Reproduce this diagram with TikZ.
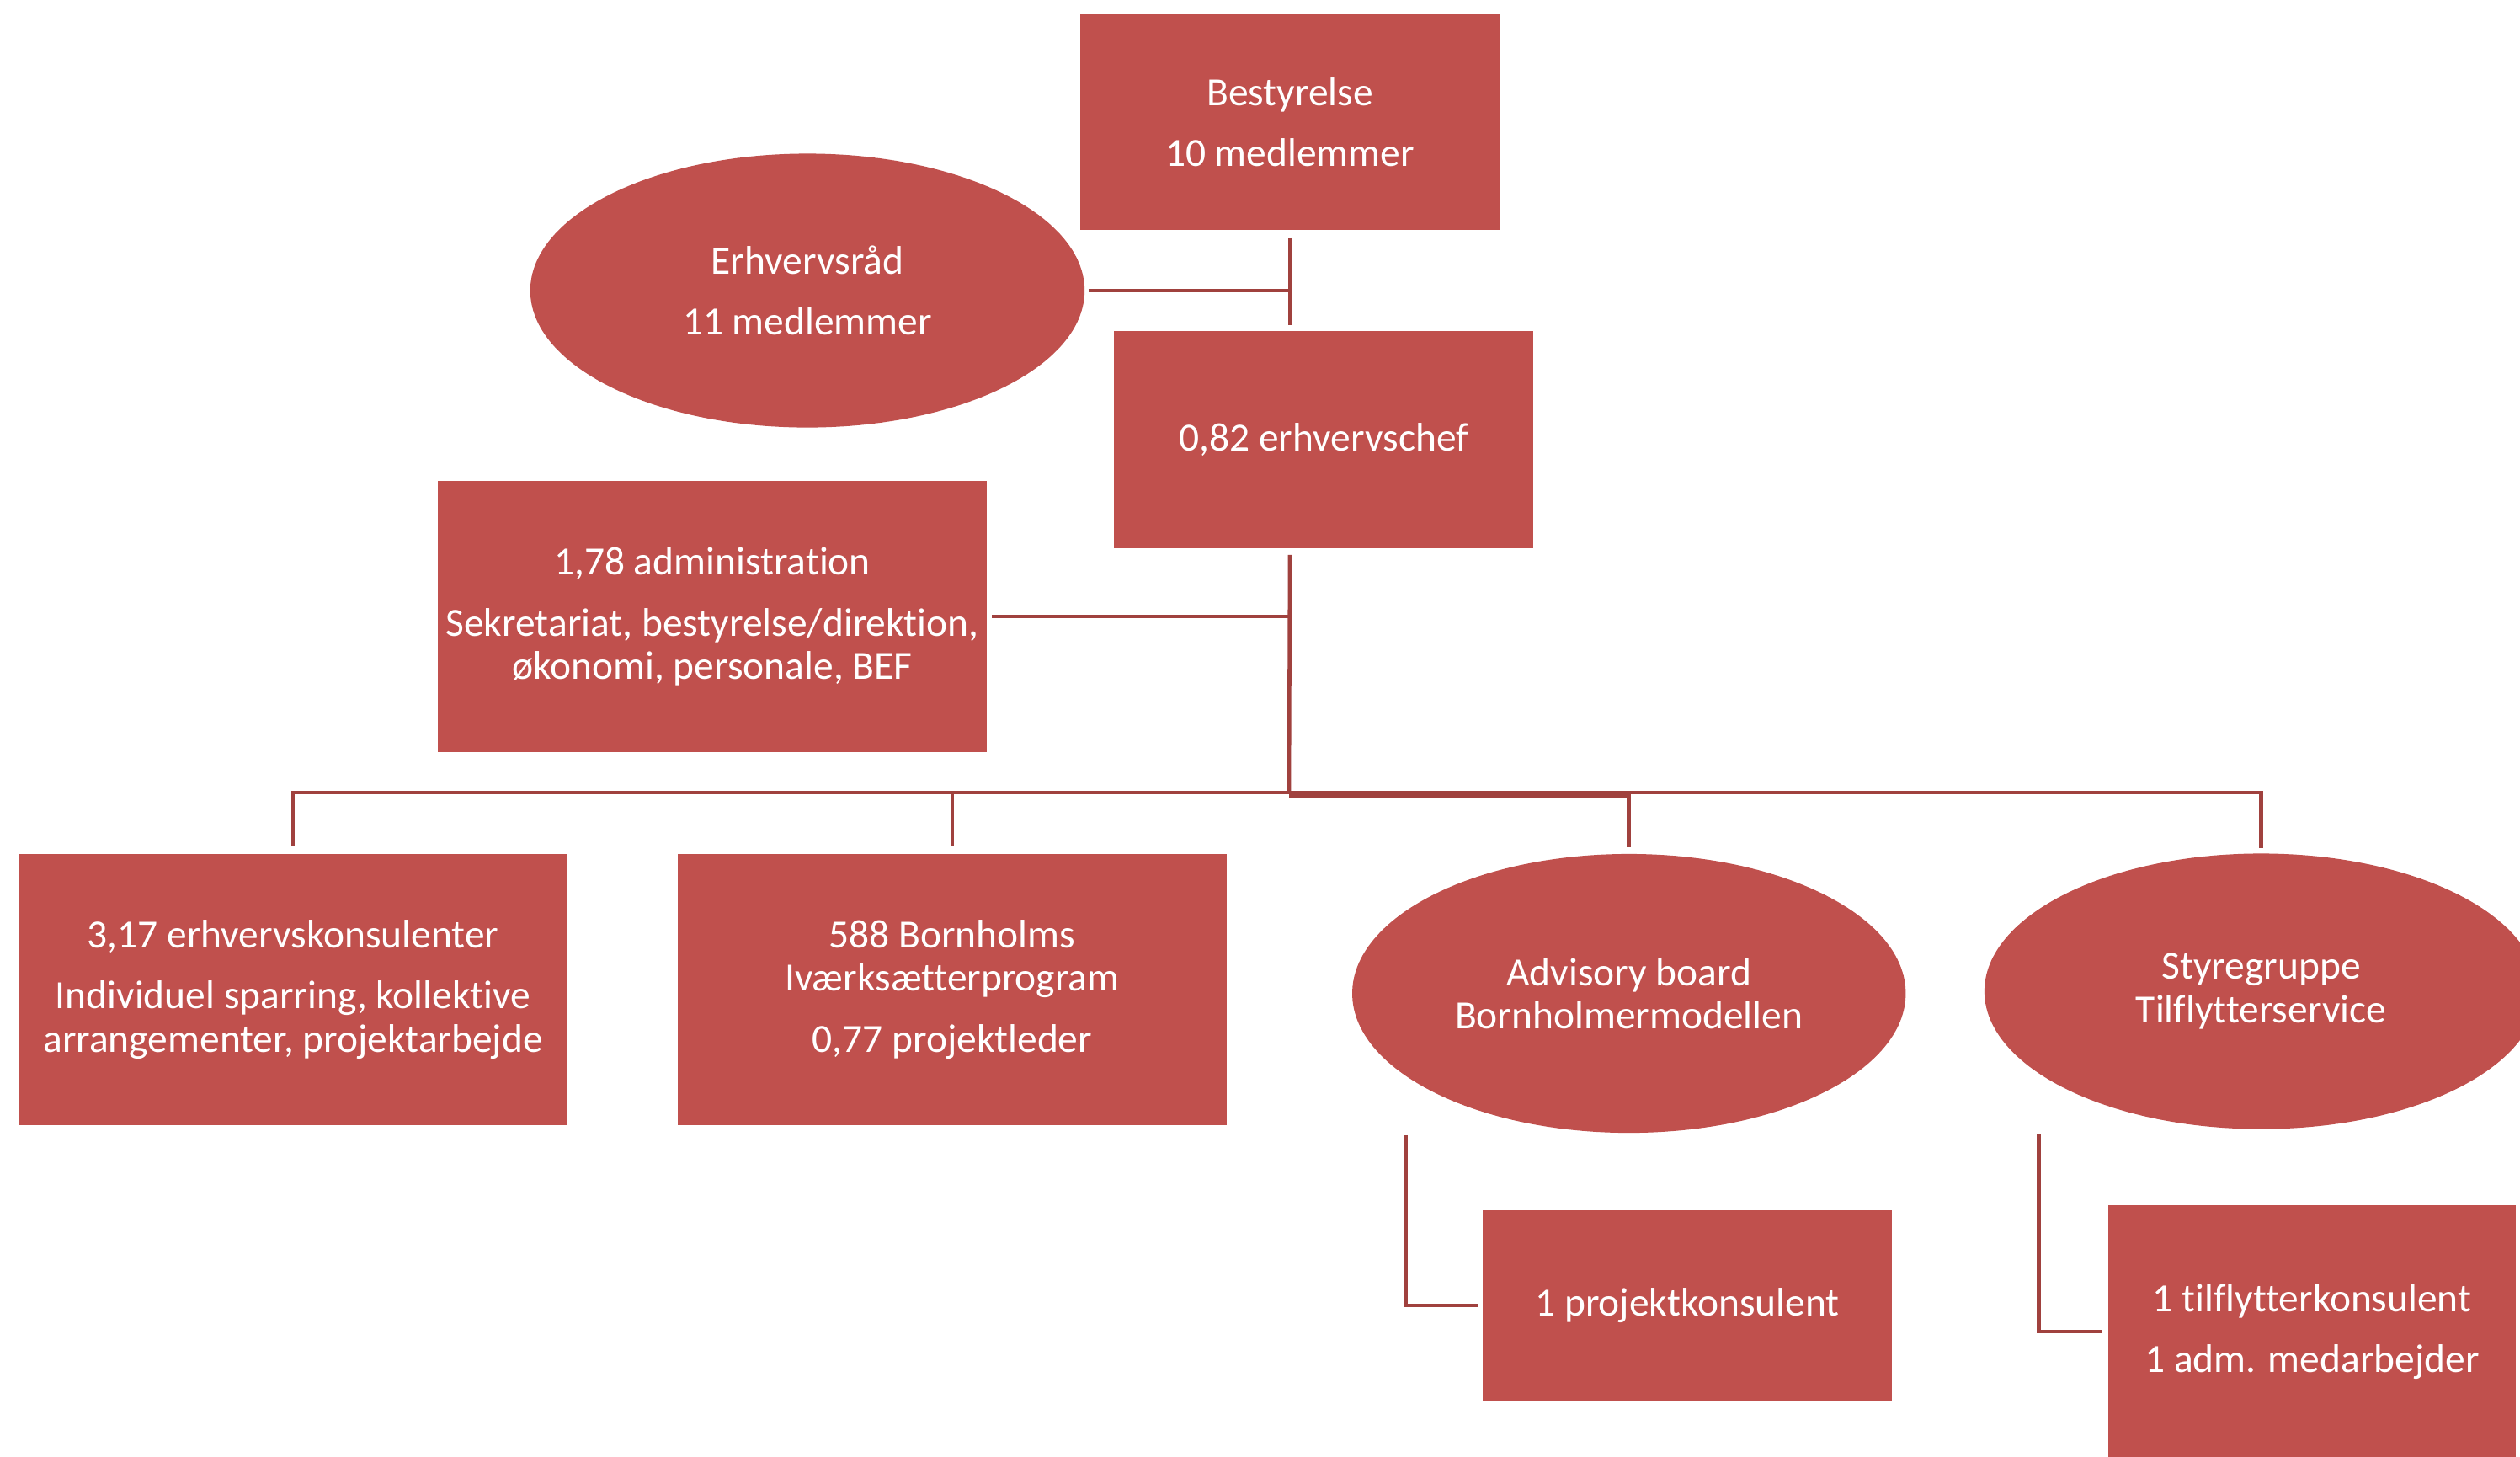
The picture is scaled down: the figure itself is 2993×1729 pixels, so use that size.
\documentclass[tikz,border=0pt]{standalone}
\usepackage{fontspec}
\setmainfont{Carlito}[Ligatures=NoCommon]
\usetikzlibrary{shapes.geometric, positioning}
\definecolor{BoxRed}{HTML}{C0504D}
\definecolor{LineRed}{HTML}{A0413E}

\begin{document}
\begin{tikzpicture}[
    x=0.01cm, y=-0.01cm,
    unit/.style={rectangle, fill=BoxRed, text=white, align=center, inner sep=0pt,
                 font=\fontsize{13.5}{14.6}\selectfont},
    council/.style={ellipse, fill=BoxRed, text=white, align=center, inner sep=0pt,
                 font=\fontsize{13.5}{14.6}\selectfont},
    link/.style={draw=LineRed, line width=1.3pt}
]
    \path[use as bounding box, clip] (0,0) rectangle (2993,1729);

    % Top of the organisation
    \node[unit, minimum width=4.98cm, minimum height=2.56cm] (board) at (1532,145)
        {Bestyrelse\\[6pt]10 medlemmer};
    \node[council, minimum width=6.58cm, minimum height=3.25cm] (council) at (959,345)
        {Erhvervsråd\\[6pt]11 medlemmer};
    \node[unit, minimum width=4.98cm, minimum height=2.58cm] (chef) at (1572,522)
        {0,82 erhvervschef};
    \node[unit, minimum width=6.51cm, minimum height=3.22cm] (admin) at (846,732)
        {1,78 administration\\[6pt]Sekretariat, bestyrelse/direktion,\\økonomi, personale, BEF};

    % Row of units
    \node[unit, minimum width=6.51cm, minimum height=3.21cm] (consult) at (348,1175)
        {3,17 erhvervskonsulenter\\[6pt]Individuel sparring, kollektive\\arrangementer, projektarbejde};
    \node[unit, minimum width=6.51cm, minimum height=3.21cm, right=1.3cm of consult] (startup)
        {588 Bornholms\\Iværksætterprogram\\[6pt]0,77 projektleder};
    \node[council, minimum width=6.57cm, minimum height=3.31cm, right=1.48cm of startup,
          yshift=-0.045cm] (advisory)
        {Advisory board\\Bornholmermodellen};
    \node[council, minimum width=6.57cm, minimum height=3.27cm, right=0.92cm of advisory,
          yshift=0.025cm] (steering)
        {Styregruppe\\Tilflytterservice};

    % Staff under the groups
    \node[unit, minimum width=4.85cm, minimum height=2.26cm] (projcons) at (2004,1550)
        {1 projektkonsulent};
    \node[unit, minimum width=4.84cm, minimum height=3.0cm] (movers) at (2746,1581)
        {1 tilflytterkonsulent\\[6pt]1 adm. medarbejder};

    % Connectors
    \coordinate (bus) at (1531,941);
    \draw[link] ([yshift=-0.09cm]board.south) -- ([yshift=0.06cm]board.south |- chef.north);
    \draw[link] ([xshift=0.04cm]council.east) -- (council.east -| board.south);
    \draw[link] ([yshift=-0.07cm]board.south |- chef.south) -- (bus);
    \draw[link] ([xshift=0.06cm]admin.east) -- (admin.east -| bus);
    \draw[link] (bus) -| ([yshift=0.1cm]consult.north);
    \draw[link] (bus) -| ([yshift=0.1cm]startup.north);
    \draw[link] ([yshift=-0.04cm]bus) -| ([yshift=0.07cm]advisory.north);
    \draw[link] (bus) -| ([yshift=0.06cm]steering.north);
    \draw[link] ([xshift=-2.65cm,yshift=-0.02cm]advisory.south) |- ([xshift=-0.06cm]projcons.west);
    \draw[link] ([xshift=-2.64cm,yshift=-0.05cm]steering.south) |- ([xshift=-0.07cm]movers.west);
\end{tikzpicture}
\end{document}
